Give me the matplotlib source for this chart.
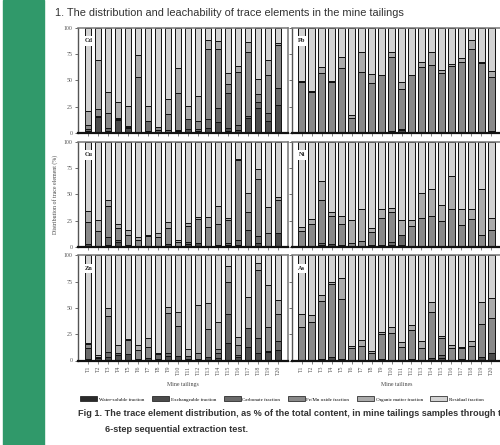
import numpy as np
import matplotlib.pyplot as plt

samples = ['T%d' % i for i in range(1, 21)]
fractions = ['Water-soluble fraction', 'Exchangeable fraction', 'Carbonate fraction',
             'Fe/Mn oxide fraction', 'Organic matter fraction', 'Residual fraction']
fills = ['#2a2a2a', '#4b4b4b', '#6a6a6a', '#898989', '#ababab', '#d3d3d3']

# % of total content, rows: water-soluble, exchangeable, carbonate, Fe/Mn oxide, organic
# (residual is the rest up to 100)
cd = [[0.5, 0.5, 1, 0.5, 1, 0.3, 0.5, 0.5, 0.5, 0.5, 0.5, 0.5, 0.5, 0.5, 2.2, 0.5, 0.5, 0.5, 0.5, 0.5],
      [1.4, 15, 1, 11.8, 3.4, 0.3, 1.5, 0.8, 0.8, 1.7, 3.6, 1.4, 3.9, 9.9, 2.2, 2.3, 14.1, 22.9, 10.9, 25.8],
      [2, 1, 3, 1.3, 1.6, 0.4, 9.7, 1.5, 1.5, 0.5, 9.5, 2.2, 8.6, 13, 33.3, 4.8, 1.4, 6.3, 7.9, 16.1],
      [4, 6, 14, 0.5, 1, 52, 0, 2.6, 14.9, 35, 0, 7.3, 67, 56.3, 8.5, 50.4, 61, 7.3, 35.7, 40.8],
      [13, 46.5, 20, 15.6, 19, 21.4, 14.3, 0, 14.3, 24.3, 12, 23.6, 8.6, 7.9, 10.4, 6, 9, 14, 14.3, 2.2]]

pb = [[0.3, 0.3, 0.3, 0.3, 0.3, 0.3, 0.3, 0.3, 0.3, 0.5, 1, 0.3, 0.3, 0.3, 0.3, 0.3, 0.3, 0.3, 0.3, 0.5],
      [0.3, 0.3, 0.3, 0.3, 0.3, 0.3, 0.3, 0.3, 0.3, 0.5, 1.5, 0.3, 0.3, 0.3, 0.3, 0.3, 0.3, 0.3, 0.3, 1],
      [0.4, 0.4, 0.4, 0.4, 0.4, 0.4, 0.4, 0.4, 0.4, 0.5, 1.3, 0.4, 0.4, 0.4, 0.4, 0.4, 0.4, 0.4, 0.4, 0.5],
      [47, 37.6, 56, 47.5, 60.4, 12.9, 57, 46.8, 54, 70.3, 37.7, 54, 61.3, 63.6, 56.3, 63, 66.7, 78.7, 65, 50.8],
      [1.5, 1.4, 6, 0.9, 10.4, 2.9, 19, 8.2, 0.5, 5.2, 7.2, 0.5, 5.4, 12.4, 2.5, 1.5, 3.2, 8.9, 1.7, 6.1]]

cu = [[1, 0.5, 0.5, 0.5, 0.5, 0.5, 0.5, 0.5, 0.5, 0.5, 0.5, 0.5, 0.5, 0.5, 0.5, 0.5, 0.5, 0.5, 0.5, 0.5],
      [1.6, 0.5, 1.1, 3.7, 1.1, 0.5, 0.5, 0.5, 2.1, 0.5, 2.1, 3, 0.5, 1.4, 1.4, 1, 0.5, 3, 0.5, 12.3],
      [0, 0, 7.7, 2.2, 0, 0, 0, 0, 0, 0, 1.6, 0, 0, 0, 1.6, 5.2, 15, 7, 0, 0],
      [20.7, 14.3, 29.4, 11.5, 9.9, 5.4, 9.5, 8.6, 15.3, 3.2, 15.3, 23, 17.5, 19.8, 22.4, 75.7, 16.9, 54.4, 12.1, 32.2],
      [10.6, 10.6, 6.3, 3.8, 4.8, 3.2, 0.7, 3.5, 5.4, 2.2, 3.2, 1.6, 10.3, 17.6, 1.6, 1.6, 18.5, 8.9, 24.6, 2.3]]

ni = [[0.5] * 20,
      [0.5, 0.5, 1.7, 2.7, 1.7, 0.5, 0.5, 1.1, 1.7, 1.7, 1.7, 0.5, 0.5, 0.5, 0.5, 0.5, 0.5, 0.5, 0.5, 0.5],
      [0, 0, 1.9, 0, 0, 0, 0, 0, 0, 2.6, 9.5, 0, 0, 0, 0, 0, 0, 0, 0, 0],
      [14.2, 20.6, 40.3, 26.3, 20, 2.8, 4.4, 12.7, 25.7, 28.5, 0, 18.7, 26.6, 28.2, 23.4, 35.5, 19.6, 25.3, 10.1, 14.9],
      [4, 5.1, 18.5, 3.2, 7.6, 21.6, 31.1, 4.1, 8.6, 3.8, 13.7, 5.7, 23.2, 25.4, 15.3, 30.8, 15.9, 10.2, 43.8, 11.1]]

zn = [[0.5] * 20,
      [0.8, 1.5, 3, 4.6, 5.5, 0.5, 2, 0.5, 3.6, 3.9, 1.4, 1.3, 3, 1.5, 16.3, 3, 11.9, 6.8, 7.8, 9.3],
      [10.8, 1.5, 4.8, 2.5, 0, 0, 0, 5, 3.2, 0, 2.2, 0, 0, 4.7, 27, 2.2, 18.1, 13.7, 0.9, 8.6],
      [3.5, 0, 33.9, 0, 13.4, 8.8, 10.5, 0, 37.5, 28.3, 0, 4.9, 26.3, 4.7, 31.1, 8.9, 0, 65, 22.9, 25.7],
      [1.2, 1.3, 8, 7, 0.6, 4.8, 8.6, 1.6, 5.7, 13.6, 6.4, 45.7, 24.5, 24.8, 14.9, 7.3, 30.1, 7, 39.3, 13.4]]

as_ = [[0.3, 0.3, 0.5, 0.5, 0.5, 0.3, 0.3, 0.3, 0.5, 0.3, 0.3, 0.5, 0.3, 0.5, 0.5, 0.3, 0.5, 0.3, 0.5, 0.5],
       [0.3, 0.3, 1.4, 2.7, 0.5, 0.3, 0.3, 0.3, 0.5, 0.3, 0.3, 0.5, 0.3, 2.1, 2.1, 0.3, 0.5, 0.3, 2.7, 6.8],
       [0, 0, 0, 0, 0, 0, 0, 0, 0, 0, 0, 0, 0, 0, 2.2, 0, 0, 0, 0, 0],
       [31.3, 36.1, 54.3, 69.6, 57.5, 11.5, 13.1, 6.7, 24.6, 25.9, 12.2, 28.1, 11.5, 43.1, 16.3, 11.5, 10.5, 13.1, 31.3, 33],
       [12.2, 6.8, 6.1, 1.6, 20.1, 1.6, 5.5, 1.6, 1.9, 5.4, 5.1, 4.8, 6.4, 9.6, 2.2, 2.3, 1.3, 4.8, 20.8, 19.1]]

panels = [('Cd', cd), ('Pb', pb), ('Cu', cu), ('Ni', ni), ('Zn', zn), ('As', as_)]

plt.rcParams['font.family'] = ['Liberation Serif', 'DejaVu Serif']
narrow = ['Liberation Sans Narrow', 'DejaVu Sans Condensed', 'Liberation Sans', 'DejaVu Sans']

fig = plt.figure(figsize=(5, 4.45), dpi=100)
W, H = 500.0, 445.0

# green side band
fig.patches.append(plt.Rectangle((3 / W, 0), 41 / W, 1, transform=fig.transFigure,
                                 color='#30996a', zorder=0))

fig.text(55 / W, 1 - 13 / H, '1. The distribution and leachability of trace elements in the mine tailings',
         family=narrow, fontsize=7.95, color='#333333', va='center', ha='left')

col_left = [78, 291.5]
row_top = [27.7, 141.7, 255.3]
pw, ph = 210, 105.2
x = np.arange(20)

for k, (name, data) in enumerate(panels):
    r, c = divmod(k, 2)
    ax = fig.add_axes([col_left[c] / W, 1 - (row_top[r] + ph) / H, pw / W, ph / H])
    vals = [np.array(v, dtype=float) for v in data]
    resid = 100 - np.sum(vals, axis=0)
    vals.append(resid)
    bottom = np.zeros(20)
    for v, col in zip(vals, fills):
        lw = np.where(v > 0, 0.7, 0)
        ax.bar(x, v, 0.68, bottom=bottom, color=col, edgecolor='#111111', linewidth=lw)
        bottom += v
    ax.set_xlim(-1, 20)
    ax.set_ylim(0, 100)
    ax.set_yticks([0, 25, 50, 75, 100])
    ax.set_xticks(x)
    for s in ['top', 'right']:
        ax.spines[s].set_color('#777777')
        ax.spines[s].set_linewidth(1.1)
    ax.spines['left'].set_color('#555555')
    ax.spines['left'].set_linewidth(1.0)
    ax.spines['bottom'].set_color('#111111')
    ax.spines['bottom'].set_linewidth(1.6)
    ax.tick_params(axis='y', length=2.5, width=0.6, color='#555555', labelsize=4.2,
                   labelcolor='#555555', pad=1.5)
    ax.tick_params(axis='x', length=1.8, width=0.5, color='#555555', labelsize=4.2,
                   labelcolor='#555555', pad=2)
    if c == 1:
        ax.set_yticklabels([])
    if r < 2:
        ax.set_xticklabels([])
    else:
        ax.set_xticklabels(samples, rotation=90)
        ax.set_xlabel('Mine tailings' if c == 0 else 'Mine tailines', fontsize=4.2,
                      color='#444444', labelpad=5)
    ax.text(0.05, 0.875, name, transform=ax.transAxes, fontsize=4.6, fontweight='bold',
            ha='center', va='center', color='#222222',
            bbox=dict(boxstyle='square,pad=0.35', fc='white', ec='none'))
    if k == 2:
        ax.set_ylabel('Distribution of trace element (%)', fontsize=4.2, color='#444444',
                      labelpad=4)

handles = [plt.Rectangle((0, 0), 1, 1, fc=col, ec='#111111', lw=0.5) for col in fills]
fig.legend(handles, fractions, loc='center', bbox_to_anchor=(282 / W, 1 - 399 / H), ncol=6,
           fontsize=3.6, frameon=False, handlelength=3.4, handleheight=1.1,
           handletextpad=0.35, columnspacing=1.5, borderaxespad=0)

fig.text(78 / W, 1 - 414 / H,
         'Fig 1. The trace element distribution, as % of the total content, in mine tailings samples through the',
         family=narrow, fontsize=6.6, fontweight='bold', color='#333333', va='center', ha='left')
fig.text(105 / W, 1 - 430 / H, '6-step sequential extraction test.',
         family=narrow, fontsize=6.6, fontweight='bold', color='#333333', va='center', ha='left')

fig.savefig('out.png', dpi=100)
